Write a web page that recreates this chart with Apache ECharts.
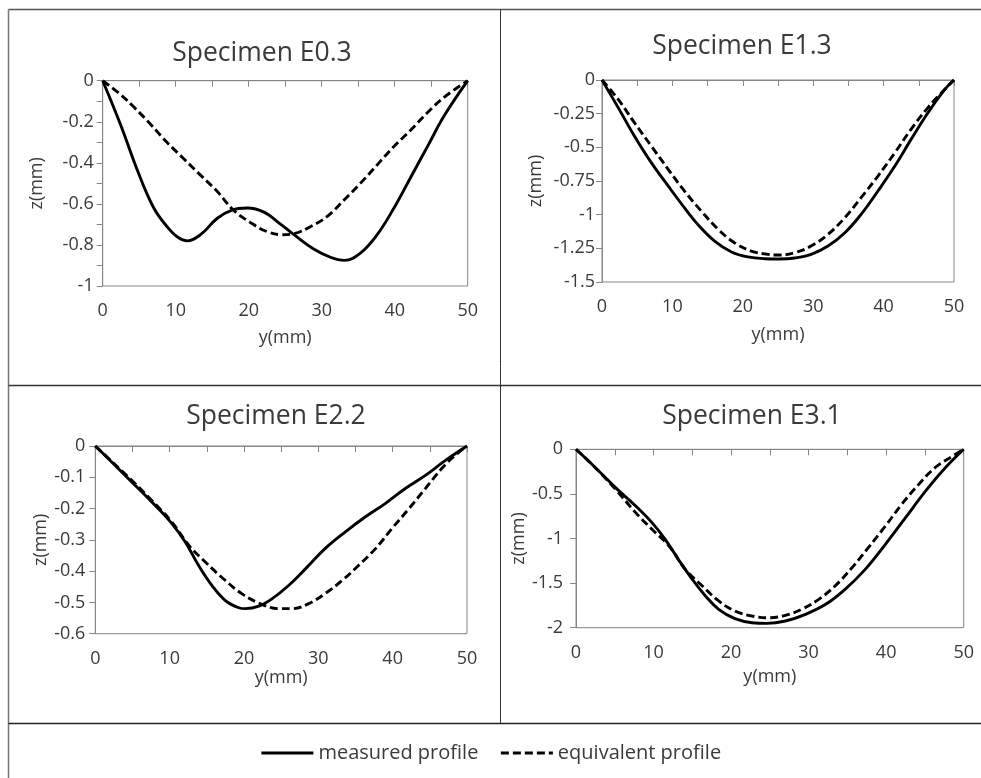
<!DOCTYPE html>
<html><head><meta charset="utf-8">
<script src="https://cdn.jsdelivr.net/npm/echarts@6/dist/echarts.min.js"></script>
<style>html,body{margin:0;padding:0;background:#fff}#c{width:981px;height:778px}</style>
</head><body><div id="c"></div>
<script>
// ---------- data ----------
const titles = ['Specimen E0.3', 'Specimen E1.3', 'Specimen E2.2', 'Specimen E3.1'];
const seriesNames = ['measured profile', 'equivalent profile'];
const xAxisName = 'y(mm)';
const yAxisName = 'z(mm)';
const xTickLabels = [0, 10, 20, 30, 40, 50];
const yTickLabelsE03 = [0, -0.2, -0.4, -0.6, -0.8, -1];
const yTickLabelsE13 = [0, -0.25, -0.5, -0.75, -1, -1.25, -1.5];
const yTickLabelsE22 = [0, -0.1, -0.2, -0.3, -0.4, -0.5, -0.6];
const yTickLabelsE31 = [0, -0.5, -1, -1.5, -2];

// Specimen E0.3
const e03MeasY = [0, 2.4, 4.9, 7.0, 8.8, 10.2, 11.6, 13.4, 15.7, 17.7, 19.8, 22.1, 24.4, 26.2, 28.9, 31.2, 33.1, 35.3, 37.6, 39.9, 42.2, 44.5, 46.8, 50];
const e03MeasZ = [0, -0.21, -0.45, -0.62, -0.71, -0.76, -0.78, -0.75, -0.67, -0.63, -0.62, -0.64, -0.70, -0.75, -0.82, -0.86, -0.875, -0.84, -0.75, -0.62, -0.47, -0.32, -0.17, 0];
const e03EquiY = [0, 2.4, 4.2, 6.5, 8.8, 11.1, 13.4, 15.7, 17.9, 20.2, 22.5, 24.6, 26.2, 28.5, 30.8, 33.1, 35.3, 37.6, 39.9, 42.2, 44.5, 46.8, 50];
const e03EquiZ = [0, -0.066, -0.126, -0.21, -0.30, -0.38, -0.46, -0.54, -0.63, -0.69, -0.735, -0.75, -0.745, -0.71, -0.66, -0.58, -0.50, -0.41, -0.32, -0.24, -0.155, -0.08, 0];

// Specimen E1.3
const e13MeasY = [0, 2.3, 4.6, 7.0, 9.4, 11.7, 13.6, 16.0, 18.4, 20.7, 23.1, 25.2, 27.4, 29.7, 32.1, 34.5, 36.8, 39.2, 41.6, 43.9, 46.3, 48.7, 50];
const e13MeasZ = [0, -0.205, -0.416, -0.614, -0.787, -0.948, -1.072, -1.196, -1.277, -1.314, -1.327, -1.329, -1.322, -1.295, -1.233, -1.134, -0.998, -0.824, -0.639, -0.441, -0.243, -0.069, 0];
const e13EquiY = [0, 2.3, 4.6, 7.0, 9.4, 11.7, 14.1, 16.5, 18.8, 21.2, 23.6, 25.2, 27.4, 29.7, 32.1, 34.5, 36.8, 39.2, 41.6, 43.9, 46.3, 48.7, 50];
const e13EquiZ = [0, -0.144, -0.317, -0.49, -0.663, -0.824, -0.973, -1.109, -1.208, -1.27, -1.295, -1.30, -1.282, -1.233, -1.146, -1.022, -0.874, -0.713, -0.54, -0.366, -0.205, -0.069, 0];

// Specimen E2.2
const e22MeasY = [0, 2.2, 4.9, 7.6, 10.3, 12.1, 13.9, 15.7, 17.5, 19.3, 20.2, 22.0, 23.8, 26.0, 28.3, 30.9, 33.6, 36.3, 39.0, 41.7, 44.4, 47.1, 50];
const e22MeasZ = [0, -0.051, -0.115, -0.179, -0.248, -0.307, -0.382, -0.446, -0.494, -0.517, -0.520, -0.512, -0.488, -0.446, -0.392, -0.328, -0.275, -0.227, -0.184, -0.136, -0.094, -0.046, 0];
const e22EquiY = [0, 2.2, 4.9, 7.6, 10.3, 12.6, 14.8, 17.5, 19.7, 22.0, 24.7, 26.5, 28.7, 30.9, 33.2, 35.4, 37.7, 39.9, 42.2, 44.4, 46.6, 48.4, 50];
const e22EquiZ = [0, -0.049, -0.11, -0.174, -0.243, -0.318, -0.371, -0.43, -0.472, -0.502, -0.520, -0.520, -0.504, -0.472, -0.43, -0.382, -0.328, -0.264, -0.20, -0.136, -0.072, -0.030, 0];

// Specimen E3.1
const e31MeasY = [0, 2.5, 5.1, 7.7, 9.8, 11.5, 13.2, 15.0, 16.7, 18.4, 20.5, 22.7, 24.6, 27.0, 29.6, 32.2, 34.7, 37.3, 39.9, 42.5, 45.1, 47.6, 50];
const e31MeasZ = [0, -0.206, -0.43, -0.636, -0.822, -1.009, -1.234, -1.458, -1.645, -1.794, -1.899, -1.944, -1.951, -1.925, -1.85, -1.738, -1.57, -1.346, -1.065, -0.766, -0.467, -0.21, 0];
const e31EquiY = [0, 2.5, 5.1, 7.7, 9.8, 12.0, 14.1, 16.3, 18.4, 20.5, 22.7, 24.8, 27.0, 29.1, 31.3, 33.4, 35.6, 37.7, 39.9, 42.0, 44.2, 46.3, 48.5, 50];
const e31EquiZ = [0, -0.206, -0.449, -0.71, -0.897, -1.084, -1.346, -1.533, -1.70, -1.813, -1.869, -1.888, -1.862, -1.794, -1.682, -1.533, -1.327, -1.103, -0.86, -0.617, -0.393, -0.206, -0.08, 0];

// ---------- chart ----------
const measured = [[e03MeasY, e03MeasZ], [e13MeasY, e13MeasZ], [e22MeasY, e22MeasZ], [e31MeasY, e31MeasZ]];
const equivalent = [[e03EquiY, e03EquiZ], [e13EquiY, e13EquiZ], [e22EquiY, e22EquiZ], [e31EquiY, e31EquiZ]];
const yTickSets = [yTickLabelsE03, yTickLabelsE13, yTickLabelsE22, yTickLabelsE31];
const yIntervals = [0.1, 0.25, 0.1, 0.5];

const FONT = 'Open Sans';
const TXT = '#3a3a3a';
const AX = '#868686';

const grids = [
  {left: 102.7, top: 80.7, width: 365, height: 205.3},
  {left: 602, top: 80, width: 352, height: 202},
  {left: 95.3, top: 446, width: 371.7, height: 187.7},
  {left: 576, top: 449.3, width: 387.7, height: 178.4}
];
const titlePos = [{x: 262, y: 40}, {x: 742, y: 33}, {x: 276, y: 403}, {x: 752, y: 403}];
const xNameGap = [43, 44, 34, 40];
const yNameGap = [57, 57, 45, 42];
const yLabelMargin = [9, 7, 10, 13];

const zip = (a, b) => a.map((v, i) => [v, b[i]]);
const onList = (list, v) => list.some(t => Math.abs(t - v) < 1e-6);
const fmt = v => String(parseFloat(Number(v).toFixed(3)));

const option = {
  animation: false,
  backgroundColor: '#fff',
  textStyle: {fontFamily: FONT},
  title: titles.map((t, i) => ({
    text: t, left: titlePos[i].x, top: titlePos[i].y, textAlign: 'center', padding: 0,
    textStyle: {fontFamily: FONT, fontSize: 26.5, fontWeight: 'normal', color: TXT}
  })),
  legend: {
    data: seriesNames, left: 'center', top: 738, itemWidth: 52, itemHeight: 14, itemGap: 21,
    itemStyle: {opacity: 0},
    lineStyle: {width: 3},
    textStyle: {fontFamily: FONT, fontSize: 20, color: TXT}
  },
  grid: grids.map(g => Object.assign({show: true, borderColor: AX, borderWidth: 1, backgroundColor: 'transparent', containLabel: false, outerBoundsMode: 'none'}, g)),
  xAxis: grids.map((g, i) => ({
    type: 'value', gridIndex: i, min: 0, max: 50, interval: 5,
    name: xAxisName, nameLocation: 'middle', nameGap: xNameGap[i],
    nameTextStyle: {fontFamily: FONT, fontSize: 18, color: TXT},
    axisLine: {show: true, lineStyle: {color: AX, width: 1}},
    axisTick: {show: true, inside: false, length: 6, lineStyle: {color: AX}},
    axisLabel: {margin: 16, fontFamily: FONT, fontSize: 18, color: TXT,
      formatter: v => onList(xTickLabels, v) ? fmt(v) : ''},
    splitLine: {show: false}
  })),
  yAxis: grids.map((g, i) => ({
    type: 'value', gridIndex: i, min: yTickSets[i][yTickSets[i].length - 1], max: 0, interval: yIntervals[i],
    name: yAxisName, nameLocation: 'middle', nameGap: yNameGap[i], nameRotate: 90,
    nameTextStyle: {fontFamily: FONT, fontSize: 18, color: TXT},
    axisLine: {show: true, onZero: false, lineStyle: {color: AX, width: 1}},
    axisTick: {show: true, inside: false, length: 6, lineStyle: {color: AX}},
    axisLabel: {margin: yLabelMargin[i], fontFamily: FONT, fontSize: 18, color: TXT,
      formatter: v => onList(yTickSets[i], v) ? fmt(v) : ''},
    splitLine: {show: false}
  })),
  series: [].concat(...grids.map((g, i) => [
    {name: seriesNames[0], type: 'line', xAxisIndex: i, yAxisIndex: i, data: zip(measured[i][0], measured[i][1]),
     symbol: 'none', showSymbol: false, smooth: 0.4, clip: false,
     lineStyle: {color: '#000', width: 2.9, type: 'solid'}, itemStyle: {color: '#000'}},
    {name: seriesNames[1], type: 'line', xAxisIndex: i, yAxisIndex: i, data: zip(equivalent[i][0], equivalent[i][1]),
     symbol: 'none', showSymbol: false, smooth: 0.4, clip: false,
     lineStyle: {color: '#000', width: 2.9, type: [8, 4]}, itemStyle: {color: '#000'}}
  ])),
  graphic: [
    {type: 'line', shape: {x1: 8.5, y1: 9.5, x2: 981, y2: 9.5}, style: {stroke: '#555', lineWidth: 1.5}, silent: true},
    {type: 'line', shape: {x1: 8.5, y1: 9.5, x2: 8.5, y2: 778}, style: {stroke: '#777', lineWidth: 1.5}, silent: true},
    {type: 'line', shape: {x1: 500.5, y1: 9.5, x2: 500.5, y2: 723.5}, style: {stroke: '#333', lineWidth: 1}, silent: true},
    {type: 'line', shape: {x1: 8.5, y1: 385.5, x2: 981, y2: 385.5}, style: {stroke: '#333', lineWidth: 1.5}, silent: true},
    {type: 'line', shape: {x1: 8.5, y1: 723.5, x2: 981, y2: 723.5}, style: {stroke: '#222', lineWidth: 1.5}, silent: true}
  ]
};

const chart = echarts.init(document.getElementById('c'), null, {renderer: 'canvas', width: 981, height: 778});
chart.setOption(option);
</script>
</body></html>
